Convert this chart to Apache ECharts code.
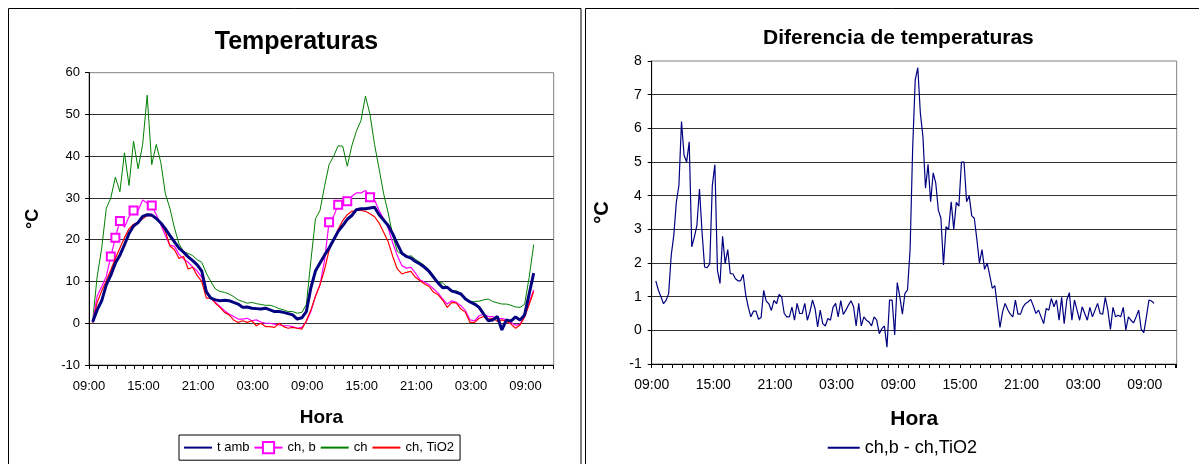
<!DOCTYPE html>
<html><head><meta charset="utf-8">
<script src="https://cdn.jsdelivr.net/npm/echarts@6/dist/echarts.min.js"></script>
<style>html,body{margin:0;padding:0;background:#fff;}#c{width:1199px;height:464px;}</style>
</head><body><div id="c"></div>
<script>
// ---------- DATA ----------
const tickLabels = ['09:00','15:00','21:00','03:00','09:00','15:00','21:00','03:00','09:00'];
const startHour = 0.4;      // hours after 09:00 of first reading
const stepLeft = 0.5;       // hours between left-chart readings
const stepRight = 0.25;     // hours between right-chart readings

const tAmb = [0.3,3.2,5.4,9.2,11.5,14.4,16.3,18.8,21.5,23.3,
  24.1,25.6,26,25.9,25.1,24,22.6,21,19.5,18,
  17,15.9,15,14,12.5,7.5,6,5.6,5.4,5.5,
  5.4,5,4.6,3.8,3.9,3.6,3.5,3.4,3.6,3.2,
  2.8,2.8,2.6,2.3,2,1,1.3,2.8,8.5,12.5,
  14.4,16.3,18,20,22,23.4,24.9,25.8,27.2,27.4,
  27.4,27.6,27.8,26,24.7,23.4,21.4,19,16.8,16,
  15.6,14.8,14.2,13.4,12.4,11,9.6,8.5,8.6,7.7,
  7.4,7,5.8,5.1,4.6,3.8,2.2,0.6,0.8,1.6,
  -1.6,0.8,0.5,1.5,0.8,2,7,12];
const chB = [0.3,6.5,8.8,11.2,16,20.5,24.5,23,25.5,27,
  27,29.5,28.8,28.2,26,23.6,21,18.7,18.4,16.5,
  15.4,14.6,13.5,12.5,11,8,6,5,4,3,
  2.2,1.6,1,1,1.2,0.6,0.8,0.3,0,0,
  -0.2,-0.4,-0.6,-0.6,-0.8,-1.2,-1,0.4,2.8,6.5,
  9.2,15,24.2,25.6,28.4,29.2,29.2,30.4,31.2,31.2,
  31.8,30.2,29.5,27,25,22.8,19.2,16.2,13.8,13.2,
  13.4,12,10.4,9.8,9.2,8.2,7.2,5.8,4.6,5.4,
  5,4.2,3,0.8,0.6,1.8,2.2,1.6,1.6,1,
  1.2,0.8,0.2,-0.5,-0.2,1.6,5,8];
const chBMarkers = [4,5,6,9,13,52,54,56,61];
const ch = [0.5,11.2,18,27.5,30,35,31.5,40.8,33,43.6,
  37,42.8,54.6,38,42.8,38.5,31,27.5,22.8,19,
  17.2,16.7,16.2,15.2,14.6,12,10,8.2,7.6,7.4,
  7,6.4,5.6,5.2,4.8,5,4.7,4.5,4.3,4.3,
  4,3.5,3.2,2.8,2.8,2.4,2.6,4.5,15,25,
  27,32.8,38,40,42.5,42.4,37.6,42.5,46,48.5,
  54.4,50,42.8,37,31,26.4,21,17.2,16.5,15.8,
  16.2,15.3,14.6,13.8,12.8,11.4,9.8,9.6,8.6,7.7,
  7.8,7.1,5.8,5,5.2,5.3,5.6,5.8,5.2,4.9,
  4.6,4.6,4.3,3.9,3.8,4.5,11,18.8];
const chTiO2 = [0.1,5,7.8,10.2,12.8,15.5,18,20.5,22.6,23.7,
  24.2,25,25.8,25.7,25.2,24,22,18.5,17.6,15.5,
  16,13,13.4,11.4,10,6,6,4.8,3.8,2.6,
  2,0.8,0.2,0.6,0.2,0.6,-0.6,0,-0.8,-0.8,
  -1,0,-0.8,-1.2,-1,-1.2,-1.4,0.6,3.2,6.4,
  9.2,12.8,17.5,20,22.5,24.6,26,26.8,27,27,
  26.8,26.2,25.5,24,21.8,19.5,16,13,11.8,12.2,
  12.4,11,10.2,9.4,8.8,7.4,6.8,5.5,3.8,5,
  4.8,3.4,2.6,0.2,0.2,1.2,1.6,1,1.2,0.5,
  0.8,0.4,-0.2,-1.2,-0.4,1.5,4.5,7.6];
const diff = [1.47,1.19,1.0,0.79,0.89,1.09,2.23,2.82,3.81,4.31,
  6.2,5.2,5.0,5.6,2.48,2.77,3.12,4.2,2.92,1.88,
  1.86,1.98,4.3,4.92,1.78,1.39,2.79,1.98,2.40,1.68,
  1.68,1.53,1.47,1.47,1.66,1.06,0.69,0.40,0.57,0.57,
  0.33,0.38,1.19,0.87,0.79,0.59,0.89,0.79,1.07,0.99,
  0.5,0.4,0.4,0.69,0.3,
  0.8,0.5,0.5,0.8,0.3,0.55,0.9,0.65,0.1,0.6,
  0.2,0.13,0.35,0.3,0.68,0.8,0.4,0.88,0.47,0.6,
  0.75,0.88,0.7,0.13,0.8,0.13,0.4,0.3,0.25,0.13,
  0.4,0.3,-0.1,0.05,0.13,-0.5,
  0.9,0.9,-0.14,1.42,1.0,0.48,1.1,1.2,2.4,5.4,
  7.44,7.8,6.45,5.75,4.22,4.93,3.82,4.68,4.37,3.57,
  3.33,1.94,3.08,3.0,3.82,3.0,3.80,3.69,5.0,5.0,
  3.82,4.0,3.40,3.33,2.7,2.0,2.4,1.81,2.0,1.64,
  1.25,1.33,0.7,0.09,0.55,0.8,0.62,0.48,0.4,0.9,
  0.48,0.48,0.7,0.8,0.85,0.92,0.72,0.5,0.6,0.4,
  0.2,0.65,0.6,0.95,0.7,0.9,0.3,0.98,0.2,0.9,
  1.12,0.3,0.9,0.6,0.3,0.7,0.5,0.3,0.68,0.4,
  0.6,0.8,0.5,0.48,0.98,0.6,0.03,0.68,0.4,0.45,
  0.4,0.68,0.01,0.4,0.3,0.22,0.4,0.6,0.03,-0.07,
  0.4,0.9,0.87,0.8];

// ---------- BUILD ----------
const hoursL = tAmb.map((_, j) => startHour + stepLeft * j);
const hoursR = diff.map((_, i) => startHour + stepRight * i);
const FONT = '"Liberation Sans", Arial, sans-serif';
const chart = echarts.init(document.getElementById('c'), null, {renderer: 'canvas'});

function xAxisCfg(gi, fs, margin, nameSize, nameGap) {
  return {
    type: 'value', gridIndex: gi, min: 0, max: 51.1, interval: 1,
    axisLine: {show: true, onZero: false, lineStyle: {color: '#000', width: 1}},
    axisTick: {show: true, inside: false, length: 4, lineStyle: {color: '#000'}},
    axisLabel: {
      fontSize: fs, color: '#000', fontFamily: FONT, margin: margin,
      formatter: v => (Math.abs(v % 6) < 1e-6 ? (tickLabels[Math.round(v / 6)] || '') : '')
    },
    splitLine: {show: false},
    name: 'Hora', nameLocation: 'middle', nameGap: nameGap,
    nameTextStyle: {fontSize: nameSize, fontWeight: 'bold', color: '#000', fontFamily: FONT}
  };
}
function yAxisCfg(gi, min, max, interval, fs, margin, nameSize, nameGap) {
  return {
    type: 'value', gridIndex: gi, min: min, max: max, interval: interval,
    axisLine: {show: true, lineStyle: {color: '#000', width: 1}},
    axisTick: {show: true, inside: false, length: 4, lineStyle: {color: '#000'}},
    axisLabel: {fontSize: fs, color: '#000', fontFamily: FONT, margin: margin},
    splitLine: {show: true, showMinLine: false, showMaxLine: false, lineStyle: {color: '#333', width: 1}},
    name: '°C', nameLocation: 'middle', nameGap: nameGap,
    nameTextStyle: {fontSize: nameSize, fontWeight: 'bold', color: '#000', fontFamily: FONT}
  };
}
const noSym = {opacity: 0};

const option = {
  animation: false,
  backgroundColor: '#fff',
  textStyle: {fontFamily: FONT},
  grid: [
    {left: 89, top: 72.7, width: 464.7, height: 292.3, show: true, borderColor: '#808080', borderWidth: 1},
    {left: 651.7, top: 61, width: 525, height: 303, show: true, borderColor: '#808080', borderWidth: 1}
  ],
  xAxis: [xAxisCfg(0, 13, 15, 19, 43), xAxisCfg(1, 14, 14, 21, 45)],
  yAxis: [yAxisCfg(0, -10, 60, 10, 13, 9, 18, 47), yAxisCfg(1, -1, 8, 1, 14, 10, 20, 39)],
  legend: [
    {
      data: [{name: 't amb', itemStyle: noSym}, {name: 'ch, b'}, {name: 'ch', itemStyle: noSym}, {name: 'ch, TiO2', itemStyle: noSym}],
      left: 179, top: 435,
      padding: [6, 6, 6, 4], itemGap: 4, itemWidth: 28, itemHeight: 14,
      borderColor: '#000', borderWidth: 1, borderRadius: 0,
      textStyle: {fontSize: 13, color: '#000', fontFamily: FONT}
    },
    {
      data: [{name: 'ch,b - ch,TiO2', itemStyle: noSym}], left: 826.7, top: 438.7,
      padding: 0, itemWidth: 32, itemHeight: 18,
      textStyle: {fontSize: 18, color: '#000', fontFamily: FONT}
    }
  ],
  graphic: [
    {type: 'rect', silent: true, shape: {x: 8.5, y: 8.5, width: 572.5, height: 480}, style: {fill: 'none', stroke: '#000', lineWidth: 1}},
    {type: 'rect', silent: true, shape: {x: 585.5, y: 8.5, width: 640, height: 480}, style: {fill: 'none', stroke: '#000', lineWidth: 1}},
    {type: 'text', silent: true, x: 296.5, y: 42, style: {text: 'Temperaturas', font: 'bold 25px ' + FONT, fill: '#000', align: 'center', verticalAlign: 'middle'}},
    {type: 'text', silent: true, x: 898.4, y: 38.7, style: {text: 'Diferencia de temperaturas', font: 'bold 21px ' + FONT, fill: '#000', align: 'center', verticalAlign: 'middle'}}
  ],
  series: [
    {
      name: 'ch', type: 'line', xAxisIndex: 0, yAxisIndex: 0, symbol: 'none',
      data: ch.map((v, j) => [hoursL[j], v]),
      lineStyle: {color: '#008000', width: 1}, itemStyle: {color: '#008000'}, z: 2
    },
    {
      name: 'ch, b', type: 'line', xAxisIndex: 0, yAxisIndex: 0,
      symbol: 'emptyRect', symbolSize: 8, showSymbol: true, showAllSymbol: true,
      data: chB.map((v, j) => ({value: [hoursL[j], v], symbol: chBMarkers.includes(j) ? 'emptyRect' : 'none'})),
      lineStyle: {color: '#ff00ff', width: 1.2}, itemStyle: {color: '#ff00ff', borderWidth: 1.5}, z: 3
    },
    {
      name: 'ch, TiO2', type: 'line', xAxisIndex: 0, yAxisIndex: 0, symbol: 'none',
      data: chTiO2.map((v, j) => [hoursL[j], v]),
      lineStyle: {color: '#ff0000', width: 1.2}, itemStyle: {color: '#ff0000'}, z: 4
    },
    {
      name: 't amb', type: 'line', xAxisIndex: 0, yAxisIndex: 0, symbol: 'none',
      data: tAmb.map((v, j) => [hoursL[j], v]),
      lineStyle: {color: '#000080', width: 3}, itemStyle: {color: '#000080'}, z: 5
    },
    {
      name: 'ch,b - ch,TiO2', type: 'line', xAxisIndex: 1, yAxisIndex: 1, symbol: 'none',
      data: diff.map((v, i) => [hoursR[i], v]),
      lineStyle: {color: '#000080', width: 1.2}, itemStyle: {color: '#000080'}
    }
  ]
};
chart.setOption(option);
</script></body></html>
